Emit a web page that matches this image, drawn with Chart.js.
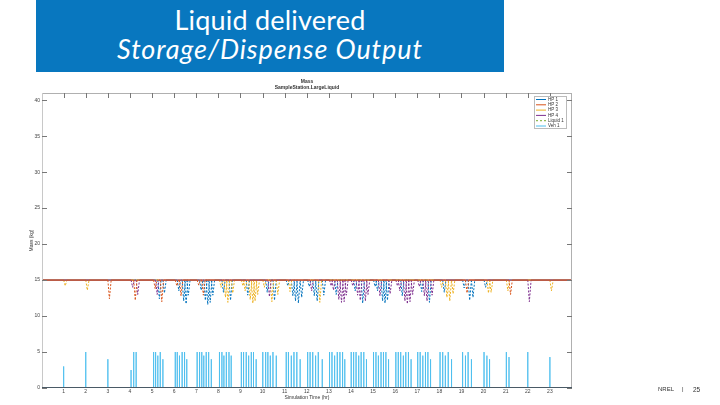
<!DOCTYPE html>
<html>
<head>
<meta charset="utf-8">
<script src="https://cdn.jsdelivr.net/npm/chart.js@4.4.0/dist/chart.umd.min.js"></script>
<style>
  html, body { margin: 0; padding: 0; background: #fff; }
  body { width: 720px; height: 405px; position: relative; overflow: hidden; font-family: Arial, "Liberation Sans", sans-serif; }
  #massChart { position: absolute; left: 0; top: 0; }
  #banner { position: absolute; left: 36px; top: 0; width: 468px; height: 72px; background: #0877BF; color: #fff; text-align: center; font-family: Lato, "Open Sans", sans-serif; }
  #banner .l1 { position: absolute; left: 0; right: 0; top: 3px; font-size: 27px; line-height: 34px; letter-spacing: 0.2px; }
  #banner .l2 { position: absolute; left: 0; right: 0; top: 32px; font-size: 27px; line-height: 34px; font-style: italic; letter-spacing: 0.9px; }
  .foot { position: absolute; top: 386px; color: #333; font-size: 6px; }
</style>
</head>
<body>
<canvas id="massChart" width="720" height="405"></canvas>
<div id="banner"><div class="l1">Liquid delivered</div><div class="l2">Storage/Dispense Output</div></div>
<div class="foot" style="left:658px">NREL</div>
<div class="foot" style="left:682px">|</div>
<div class="foot" style="left:693px;font-size:6.5px">25</div>
<script>
// axis ticks
const xTicks = [1, 2, 3, 4, 5, 6, 7, 8, 9, 10, 11, 12, 13, 14, 15, 16, 17, 18, 19, 20, 21, 22, 23];
const yTicks = [0, 5, 10, 15, 20, 25, 30, 35, 40];

const seriesNames = ['HP 1', 'HP 2', 'HP 3', 'HP 4', 'Liquid 1', 'Veh 1'];

const vehTimes = [
    1.00,
    2.00,
    3.00,
    4.05, 4.17, 4.28,
    5.07, 5.16, 5.26, 5.37, 5.49,
    6.05, 6.14, 6.24, 6.36, 6.47, 6.57,
    7.04, 7.15, 7.25, 7.34, 7.45, 7.56, 7.68,
    8.05, 8.16, 8.25, 8.36, 8.48, 8.58,
    9.04, 9.14, 9.26, 9.37, 9.49, 9.59, 9.71,
    10.01, 10.14, 10.24, 10.35, 10.47, 10.62,
    11.07, 11.17, 11.30, 11.42, 11.55, 11.70,
    12.04, 12.15, 12.27, 12.40, 12.52, 12.70,
    13.03, 13.14, 13.26, 13.38, 13.50, 13.62, 13.72,
    14.01, 14.12, 14.23, 14.35, 14.46, 14.58, 14.70,
    15.02, 15.13, 15.24, 15.36, 15.47, 15.58, 15.70,
    16.03, 16.14, 16.25, 16.37, 16.48, 16.60, 16.72,
    17.02, 17.13, 17.25, 17.37, 17.48, 17.60,
    18.03, 18.15, 18.27, 18.40, 18.55,
    19.05, 19.18, 19.30, 19.45,
    20.02, 20.15, 20.27,
    21.03, 21.15,
    22.00,
    23.00
];
// vehicle mass at end of each fill (kg)
const vehPeaks = [
    3.0,
    5.0,
    4.0,
    2.5, 5, 5,
    5, 5, 4.5, 5, 4,
    5, 5, 4.5, 5, 5, 4,
    5, 5, 5, 4.5, 5, 5, 4,
    5, 5, 4.5, 5, 5, 4.5,
    5, 5, 5, 4.5, 5, 5, 4,
    5, 5, 5, 4.5, 5, 4.5,
    5, 5, 4.5, 5, 5, 4,
    5, 5, 5, 4.5, 5, 4,
    5, 5, 4.5, 5, 5, 5, 4,
    5, 5, 5, 4.5, 5, 5, 4,
    5, 5, 4.5, 5, 5, 5, 4,
    5, 5, 5, 4.5, 5, 5, 4,
    5, 5, 4.5, 5, 5, 4,
    5, 5, 4.5, 5, 4,
    5, 4.5, 5, 4,
    5, 4.5, 4,
    5, 4.3,
    5,
    4.3
];
// which HP served each fill
const hpUsed = [
    3,
    3,
    2,
    4, 2, 4,
    2, 4, 1, 2, 1,
    2, 1, 2, 1, 1, 1,
    2, 1, 2, 1, 1, 1, 1,
    3, 1, 3, 3, 1, 3,
    3, 3, 1, 3, 3, 3, 3,
    3, 1, 4, 3, 1, 3,
    1, 3, 1, 1, 1, 1,
    1, 4, 1, 1, 3, 1,
    4, 4, 1, 4, 4, 4, 4,
    4, 1, 4, 4, 1, 4, 4,
    1, 1, 4, 1, 1, 1, 4,
    4, 4, 1, 4, 4, 4, 4,
    4, 1, 4, 4, 1, 4,
    3, 1, 3, 3, 3,
    1, 2, 1, 1,
    1, 3, 3,
    3, 2,
    4,
    3
];
// lowest HP mass reached during that fill (kg)
const hpLows = [
    14.2,
    13.6,
    12.4,
    14.0, 12.2, 13.0,
    13.8, 13.0, 12.4, 12.0, 13.2,
    14.2, 13.5, 12.8, 12.1, 11.7, 12.9,
    14.3, 13.6, 12.9, 12.2, 11.6, 11.9, 12.9,
    14.0, 13.3, 12.6, 11.9, 12.2, 13.2,
    14.2, 13.5, 12.9, 12.3, 11.8, 12.1, 13.0,
    14.0, 13.3, 12.7, 12.0, 12.2, 13.0,
    14.2, 13.4, 12.8, 12.1, 11.8, 12.6,
    14.1, 13.5, 12.8, 12.1, 11.9, 12.9,
    14.2, 13.6, 13.0, 12.3, 11.9, 12.0, 12.9,
    14.2, 13.5, 12.9, 12.2, 11.8, 12.1, 13.0,
    14.1, 13.5, 12.8, 12.1, 11.8, 12.2, 13.1,
    14.2, 13.5, 12.8, 12.1, 11.7, 12.0, 13.0,
    14.1, 13.4, 12.8, 12.1, 11.9, 12.9,
    14.0, 13.3, 12.6, 12.1, 13.1,
    13.9, 13.2, 12.2, 12.6,
    14.0, 13.2, 13.3,
    13.5, 13.0,
    12.0,
    13.5
];
const hpFull = 15;
const liquidLevel = 0;
const tStart = 0;
const tEnd = 24;

const colors = ['#0072BD', '#D95319', '#EDB120', '#7E2F8E', '#77AC30', '#4DBEEE'];

function hpSeries(k) {
    const pts = [{ x: tStart, y: hpFull }];
    vehTimes.forEach((t, i) => {
        if (hpUsed[i] !== k) return;
        pts.push({ x: t, y: hpFull }, { x: t + 0.07, y: hpLows[i] }, { x: t + 0.15, y: hpFull });
    });
    pts.push({ x: tEnd, y: hpFull });
    return pts;
}

function vehSeries() {
    const pts = [{ x: tStart, y: 0 }];
    vehTimes.forEach((t, i) => {
        pts.push({ x: t, y: 0 }, { x: t, y: vehPeaks[i] }, { x: t, y: 0 });
    });
    pts.push({ x: tEnd, y: 0 });
    return pts;
}

// slanted parts dashed and lighter, the flat 15 kg level solid and thin
const hpSegment = {
    borderDash: c => (c.p0.parsed.y === c.p1.parsed.y ? [] : [2, 1.5])
};

// draw order: HP 2 ends up on top of the 15 kg line
const drawOrder = [2, -2, 1, -1, 3, 0];

const datasets = seriesNames.map((name, k) => {
    let data;
    if (k < 4) data = hpSeries(k + 1);
    else if (k === 4) data = [{ x: tStart, y: liquidLevel }, { x: tEnd, y: liquidLevel }];
    else data = vehSeries();
    return {
        label: name,
        data: data,
        borderColor: colors[k],
        borderWidth: k === 5 ? 0.9 : 1,
        pointRadius: 0,
        tension: 0,
        order: drawOrder[k],
        borderDash: k === 4 ? [2, 2] : [],
        segment: k < 4 ? hpSegment : undefined
    };
});

const framePlugin = {
    id: 'frame',
    afterDatasetsDraw(chart) {
        const { ctx, chartArea: a, scales: { x, y } } = chart;
        const line = (x1, y1, x2, y2) => { ctx.beginPath(); ctx.moveTo(x1, y1); ctx.lineTo(x2, y2); ctx.stroke(); };
        ctx.save();
        ctx.lineWidth = 1;
        ctx.strokeStyle = '#b0b0b0';
        line(a.left, a.top + 0.5, a.right, a.top + 0.5);
        line(a.right - 0.5, a.top, a.right - 0.5, a.bottom);
        ctx.strokeStyle = '#c8c8c8';
        line(a.left + 0.5, a.top, a.left + 0.5, a.bottom);
        ctx.strokeStyle = '#4a5a66';
        line(a.left, a.bottom - 0.5, a.right, a.bottom - 0.5);

        // inward ticks
        ctx.strokeStyle = '#777';
        xTicks.forEach(v => {
            const px = Math.round(x.getPixelForValue(v)) + 0.5;
            line(px, a.top, px, a.top + 5);
        });
        yTicks.forEach(v => {
            const py = Math.round(y.getPixelForValue(v)) + 0.5;
            line(a.left, py, a.left + 5, py);
            line(a.right, py, a.right - 5, py);
        });

        // axes title
        const cx = (a.left + a.right) / 2;
        ctx.fillStyle = '#333';
        ctx.textAlign = 'center';
        ctx.textBaseline = 'middle';
        ctx.font = 'bold 5px Arial';
        ctx.fillText('Mass', cx, a.top - 11);
        ctx.fillText('SampleStation.LargeLiquid', cx, a.top - 5.5);

        // legend box
        const bx = a.right - 38, by = a.top + 3, bw = 32, bh = 32;
        ctx.fillStyle = '#fff';
        ctx.fillRect(bx, by, bw, bh);
        ctx.strokeStyle = '#bbb';
        ctx.strokeRect(bx + 0.5, by + 0.5, bw, bh);
        ctx.textAlign = 'left';
        ctx.font = '4.5px Arial';
        chart.data.datasets.forEach((ds, i) => {
            const ly = by + 3.5 + i * 5.3;
            ctx.strokeStyle = ds.borderColor;
            ctx.setLineDash(ds.borderDash || []);
            line(bx + 2, ly, bx + 12, ly);
            ctx.setLineDash([]);
            ctx.fillStyle = '#333';
            ctx.fillText(ds.label, bx + 14, ly);
        });
        ctx.restore();
    }
};

Chart.defaults.font.family = 'Arial, "Liberation Sans", sans-serif';

new Chart(document.getElementById('massChart'), {
    type: 'line',
    data: { datasets: datasets },
    options: {
        responsive: false,
        animation: false,
        devicePixelRatio: 1,
        layout: { padding: { left: 26, right: 148, top: 93, bottom: 4 } },
        plugins: {
            legend: { display: false },
            tooltip: { enabled: false }
        },
        scales: {
            x: {
                type: 'linear',
                min: 0.02,
                max: 24,
                grid: { display: false, drawTicks: false },
                border: { display: false },
                afterBuildTicks: s => { s.ticks = xTicks.map(v => ({ value: v })); },
                afterFit: s => { s.height = 13; },
                ticks: { font: { size: 5 }, color: '#444', padding: 1, maxRotation: 0, autoSkip: false },
                title: { display: true, text: 'Simulation Time (hr)', font: { size: 5 }, color: '#333', padding: { top: 0, bottom: 0.5 } }
            },
            y: {
                type: 'linear',
                min: 0,
                max: 41,
                grid: { display: false, drawTicks: false },
                border: { display: false },
                afterBuildTicks: s => { s.ticks = yTicks.map(v => ({ value: v })); },
                afterFit: s => { s.width = 16; },
                ticks: { font: { size: 5 }, color: '#444', padding: 2 },
                title: { display: true, text: 'Mass (kg)', font: { size: 5 }, color: '#333', padding: { top: 3, bottom: 0 } }
            }
        }
    },
    plugins: [framePlugin]
});
</script>
</body>
</html>
